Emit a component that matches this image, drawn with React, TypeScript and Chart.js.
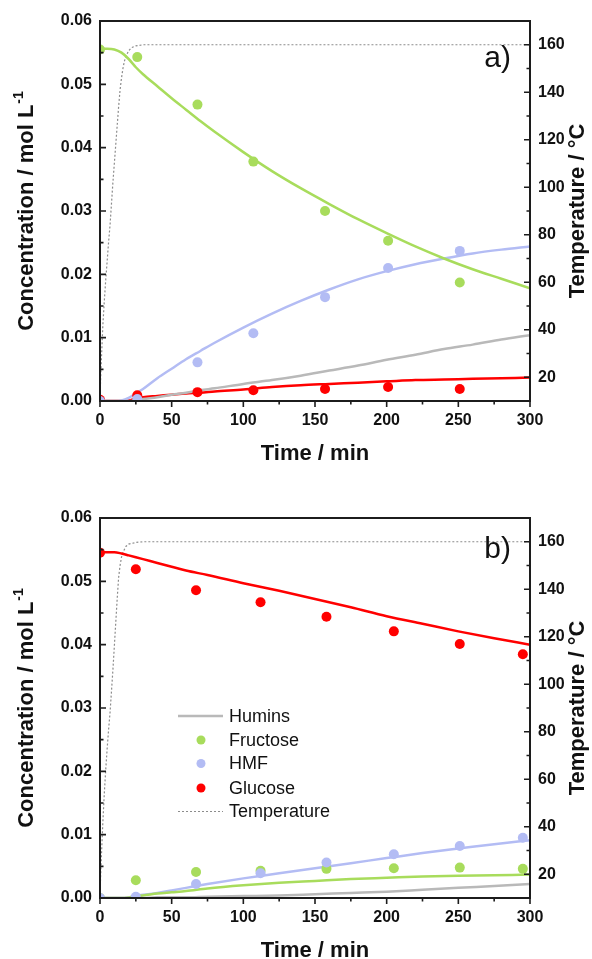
import React, { useEffect, useRef } from 'react';
import { Chart, registerables } from 'chart.js';

Chart.register(...registerables);

const FONT = '"Liberation Sans", Arial, Helvetica, sans-serif';

const GREEN = '#a8dc5c';
const BLUE = '#b3bcf4';
const RED = '#ff0000';
const GRAY = '#b9b9b9';
const TEMP = '#8c8c8c';

// ticks
const timeTicks = [0, 50, 100, 150, 200, 250, 300];
const timeMinor = [25, 75, 125, 175, 225, 275];
const concTicks = [0, 0.01, 0.02, 0.03, 0.04, 0.05, 0.06];
const concMinor = [0.005, 0.015, 0.025, 0.035, 0.045, 0.055];
const tempTicks = [20, 40, 60, 80, 100, 120, 140, 160];
const tempMinor = [30, 50, 70, 90, 110, 130, 150];

// ---------- Panel a (fructose feed) ----------
const timesA = [0, 26, 68, 107, 157, 201, 251];
const fructoseA = [0.0555, 0.0543, 0.0468, 0.0378, 0.03, 0.0253, 0.0187];
const hmfA = [0, 0.0003, 0.0061, 0.0107, 0.0164, 0.021, 0.0237];
const glucoseA = [0.0002, 0.0009, 0.0014, 0.0017, 0.0019, 0.0022, 0.0019];

const fitTimesA = [0, 5, 10, 15, 20, 25, 30, 40, 50, 60, 70, 80, 100, 120, 140, 160, 180, 200, 220, 240, 260, 280, 300];
const fructoseFitA = [0.0556, 0.0556, 0.0555, 0.055, 0.054, 0.0527, 0.0516, 0.0497, 0.0478, 0.046, 0.0442, 0.0425, 0.0393, 0.0363, 0.0336, 0.0311, 0.0287, 0.0265, 0.0244, 0.0225, 0.0208, 0.0193, 0.0178];
const hmfFitA = [0, 0, 0, 0.0001, 0.0005, 0.0012, 0.0019, 0.0036, 0.0051, 0.0066, 0.0079, 0.0092, 0.0116, 0.0138, 0.0158, 0.0176, 0.0192, 0.0205, 0.0216, 0.0225, 0.0233, 0.0239, 0.0244];
const huminsFitA = [0, 0, 0, 0, 0, 0.0001, 0.0003, 0.0006, 0.001, 0.0013, 0.0017, 0.002, 0.0027, 0.0033, 0.004, 0.0048, 0.0056, 0.0065, 0.0073, 0.0082, 0.0089, 0.0097, 0.0104];
const glucoseFitA = [0, 0, 0, 0, 0.0001, 0.0004, 0.0006, 0.0008, 0.001, 0.0012, 0.0013, 0.0015, 0.0018, 0.0022, 0.0025, 0.0027, 0.0029, 0.0031, 0.0033, 0.0034, 0.0035, 0.0036, 0.0037];

const tempTimesA = [0, 1, 2, 3, 4, 5, 6, 7, 8, 9, 10, 11, 12, 13, 14, 15, 16, 17, 18, 20, 22, 25, 30, 300];
const tempA = [12, 28, 42, 52, 61, 69, 77, 84, 93, 102, 110, 118, 126, 134, 141, 146, 150, 153, 155, 157.5, 158.8, 159.5, 160, 160];

// ---------- Panel b (glucose feed) ----------
const timesB = [0, 25, 67, 112, 158, 205, 251, 295];
const glucoseB = [0.0545, 0.0519, 0.0486, 0.0467, 0.0444, 0.0421, 0.0401, 0.0385];
const hmfB = [0, 0.0002, 0.0022, 0.0039, 0.0056, 0.0069, 0.0082, 0.0095];
const fructoseB = [0, 0.0028, 0.0041, 0.0043, 0.0046, 0.0047, 0.0048, 0.0046];

const fitTimesB = [0, 5, 10, 15, 20, 25, 30, 40, 50, 60, 75, 100, 125, 150, 175, 200, 225, 250, 275, 300];
const glucoseFitB = [0.0546, 0.0546, 0.0546, 0.0544, 0.0541, 0.0538, 0.0535, 0.0529, 0.0523, 0.0517, 0.051, 0.0497, 0.0485, 0.0472, 0.0459, 0.0445, 0.0433, 0.0421, 0.041, 0.04];
const hmfFitB = [0, 0, 0, 0, 0.0001, 0.0003, 0.0005, 0.0008, 0.0012, 0.0016, 0.0022, 0.0031, 0.0039, 0.0047, 0.0055, 0.0063, 0.0071, 0.0078, 0.0085, 0.0091];
const fructoseFitB = [0, 0, 0, 0, 0.0001, 0.0003, 0.0004, 0.0007, 0.0009, 0.0011, 0.0015, 0.002, 0.0024, 0.0027, 0.003, 0.0032, 0.0034, 0.0035, 0.0036, 0.0037];
const huminsFitB = [0, 0, 0, 0, 0, 0, 0, 0.0001, 0.0001, 0.0001, 0.0002, 0.0003, 0.0004, 0.0006, 0.0008, 0.001, 0.0013, 0.0016, 0.0019, 0.0022];

const tempTimesB = [0, 1, 2, 3, 4, 5, 6, 7, 8, 9, 10, 11, 12, 13, 14, 15, 16, 18, 20, 25, 30, 300];
const tempB = [12, 28, 42, 54, 64, 73, 81, 88, 97, 106, 116, 126, 136, 145, 150, 153.5, 155.5, 158, 159, 159.7, 160, 160];

const legendItems = ['Humins', 'Fructose', 'HMF', 'Glucose', 'Temperature'];

const pts = (xs: number[], ys: number[]) => xs.map((x, i) => ({ x, y: ys[i] }));

type PanelCfg = {
  tag: string;
  padTop: number;
  xHeight: number;
  tagY: number;
  legend: boolean;
  datasets: any[];
};

const pointDs = (xs: number[], ys: number[], color: string) => ({
  data: pts(xs, ys),
  showLine: false,
  pointRadius: 5,
  pointBorderWidth: 0,
  pointBackgroundColor: color,
  backgroundColor: color,
  borderColor: color,
  clip: 0,
  order: 0,
});

const fitDs = (xs: number[], ys: number[], color: string) => ({
  data: pts(xs, ys),
  showLine: true,
  pointRadius: 0,
  borderWidth: 2.5,
  borderColor: color,
  cubicInterpolationMode: 'monotone',
  clip: 0,
  order: 1,
});

const tempDs = (xs: number[], ys: number[]) => ({
  data: pts(xs, ys),
  showLine: true,
  pointRadius: 0,
  borderWidth: 1.2,
  borderDash: [2, 2],
  borderColor: TEMP,
  yAxisID: 'y2',
  clip: 0,
  order: 2,
});

const panelA: PanelCfg = {
  tag: 'a)',
  padTop: 21,
  xHeight: 79,
  tagY: 67,
  legend: false,
  datasets: [
    pointDs(timesA, fructoseA, GREEN),
    pointDs(timesA, hmfA, BLUE),
    pointDs(timesA, glucoseA, RED),
    fitDs(fitTimesA, huminsFitA, GRAY),
    fitDs(fitTimesA, fructoseFitA, GREEN),
    fitDs(fitTimesA, hmfFitA, BLUE),
    fitDs(fitTimesA, glucoseFitA, RED),
    tempDs(tempTimesA, tempA),
  ],
};

const panelB: PanelCfg = {
  tag: 'b)',
  padTop: 38,
  xHeight: 61,
  tagY: 78,
  legend: true,
  datasets: [
    pointDs(timesB, glucoseB, RED),
    pointDs(timesB, hmfB, BLUE),
    pointDs(timesB, fructoseB, GREEN),
    fitDs(fitTimesB, huminsFitB, GRAY),
    fitDs(fitTimesB, fructoseFitB, GREEN),
    fitDs(fitTimesB, hmfFitB, BLUE),
    fitDs(fitTimesB, glucoseFitB, RED),
    tempDs(tempTimesB, tempB),
  ],
};

function decorPlugin(p: PanelCfg) {
  return {
    id: 'decor',
    afterDatasetsDraw(chart: any) {
      const { ctx, chartArea: a, scales } = chart;
      const x = scales.x, y = scales.y, y2 = scales.y2;
      ctx.save();
      ctx.strokeStyle = '#1c1c1c';
      ctx.lineWidth = 2;
      ctx.strokeRect(a.left, a.top, a.right - a.left, a.bottom - a.top);
      ctx.lineWidth = 1.6;
      ctx.beginPath();
      timeTicks.forEach((v) => { const px = x.getPixelForValue(v); ctx.moveTo(px, a.bottom); ctx.lineTo(px, a.bottom + 6); });
      timeMinor.forEach((v) => { const px = x.getPixelForValue(v); ctx.moveTo(px, a.bottom); ctx.lineTo(px, a.bottom + 3.5); });
      concTicks.forEach((v) => { const py = y.getPixelForValue(v); ctx.moveTo(a.left, py); ctx.lineTo(a.left + 6, py); });
      concMinor.forEach((v) => { const py = y.getPixelForValue(v); ctx.moveTo(a.left, py); ctx.lineTo(a.left + 3.5, py); });
      tempTicks.forEach((v) => { const py = y2.getPixelForValue(v); ctx.moveTo(a.right, py); ctx.lineTo(a.right - 6, py); });
      tempMinor.forEach((v) => { const py = y2.getPixelForValue(v); ctx.moveTo(a.right, py); ctx.lineTo(a.right - 3.5, py); });
      ctx.stroke();

      // panel tag
      ctx.fillStyle = '#111';
      ctx.font = `30px ${FONT}`;
      ctx.textAlign = 'right';
      ctx.textBaseline = 'alphabetic';
      ctx.fillText(p.tag, a.right - 19, p.tagY);

      // legend
      if (p.legend) {
        const rowY = [236, 260, 283.5, 308, 331.5];
        ctx.font = `18px ${FONT}`;
        ctx.textAlign = 'left';
        ctx.textBaseline = 'middle';
        legendItems.forEach((label, i) => {
          const yy = rowY[i];
          if (i === 0) {
            ctx.strokeStyle = GRAY; ctx.lineWidth = 2.5; ctx.setLineDash([]);
            ctx.beginPath(); ctx.moveTo(178, yy); ctx.lineTo(223, yy); ctx.stroke();
          } else if (i === 4) {
            ctx.strokeStyle = TEMP; ctx.lineWidth = 1.2; ctx.setLineDash([2, 2]);
            ctx.beginPath(); ctx.moveTo(178, yy); ctx.lineTo(223, yy); ctx.stroke();
            ctx.setLineDash([]);
          } else {
            ctx.fillStyle = [GREEN, BLUE, RED][i - 1];
            ctx.beginPath(); ctx.arc(201, yy, 4.5, 0, Math.PI * 2); ctx.fill();
          }
          ctx.fillStyle = '#111';
          ctx.fillText(label, 229, yy + 1);
        });
      }

      // axis titles
      ctx.fillStyle = '#111';
      ctx.font = `bold 22px ${FONT}`;
      ctx.textAlign = 'center';
      ctx.textBaseline = 'alphabetic';
      ctx.fillText('Time / min', (a.left + a.right) / 2, a.bottom + 59);

      const cy = (a.top + a.bottom) / 2;
      // left title with superscript
      ctx.save();
      ctx.translate(27, cy);
      ctx.rotate(-Math.PI / 2);
      const main = 'Concentration / mol L';
      const sup = '-1';
      ctx.font = `bold 22px ${FONT}`;
      const w1 = ctx.measureText(main).width;
      ctx.font = `bold 14px ${FONT}`;
      const w2 = ctx.measureText(sup).width;
      const start = -(w1 + w2 + 1) / 2;
      ctx.textAlign = 'left';
      ctx.textBaseline = 'middle';
      ctx.font = `bold 22px ${FONT}`;
      ctx.fillText(main, start, 0);
      ctx.font = `bold 14px ${FONT}`;
      ctx.fillText(sup, start + w1 + 1, -8);
      ctx.restore();

      // right title
      ctx.save();
      ctx.translate(578, cy);
      ctx.rotate(-Math.PI / 2);
      ctx.font = `bold 22px ${FONT}`;
      ctx.textAlign = 'center';
      ctx.textBaseline = 'middle';
      ctx.fillText('Temperature / °C', 0, 0);
      ctx.restore();

      ctx.restore();
    },
  };
}

function makeChart(canvas: HTMLCanvasElement, p: PanelCfg) {
  const tickFont = { family: FONT, size: 16, weight: 'bold' as const };
  return new Chart(canvas, {
    type: 'scatter',
    data: { datasets: p.datasets },
    options: {
      responsive: false,
      animation: false,
      devicePixelRatio: 1,
      events: [],
      layout: { padding: { top: p.padTop, left: 0, right: 0, bottom: 0 } },
      plugins: { legend: { display: false }, tooltip: { enabled: false } },
      scales: {
        x: {
          type: 'linear',
          position: 'bottom',
          min: 0,
          max: 300,
          grid: { display: false, drawTicks: false },
          border: { display: false },
          afterBuildTicks: (s: any) => { s.ticks = timeTicks.map((v) => ({ value: v })); },
          afterFit: (s: any) => { s.height = p.xHeight; },
          ticks: { font: tickFont, color: '#111', padding: 10, maxRotation: 0, callback: (v: any) => String(v) },
        },
        y: {
          type: 'linear',
          position: 'left',
          min: 0,
          max: 0.06,
          grid: { display: false, drawTicks: false },
          border: { display: false },
          afterBuildTicks: (s: any) => { s.ticks = concTicks.map((v) => ({ value: v })); },
          afterFit: (s: any) => { s.width = 100; },
          ticks: { font: tickFont, color: '#111', padding: 8, callback: (v: any) => Number(v).toFixed(2) },
        },
        y2: {
          type: 'linear',
          position: 'right',
          min: 10,
          max: 170,
          grid: { display: false, drawTicks: false },
          border: { display: false },
          afterBuildTicks: (s: any) => { s.ticks = tempTicks.map((v) => ({ value: v })); },
          afterFit: (s: any) => { s.width = 62; },
          ticks: { font: tickFont, color: '#111', padding: 8, callback: (v: any) => String(v) },
        },
      },
    } as any,
    plugins: [decorPlugin(p)],
  });
}

export default function App() {
  const refA = useRef<HTMLCanvasElement>(null);
  const refB = useRef<HTMLCanvasElement>(null);

  useEffect(() => {
    const ca = makeChart(refA.current!, panelA);
    const cb = makeChart(refB.current!, panelB);
    return () => { ca.destroy(); cb.destroy(); };
  }, []);

  return (
    <div style={{ position: 'absolute', left: 0, top: 0, width: 592, height: 959, background: '#fff' }}>
      <canvas ref={refA} width={592} height={480} style={{ display: 'block', position: 'absolute', left: 0, top: 0 }} />
      <canvas ref={refB} width={592} height={479} style={{ display: 'block', position: 'absolute', left: 0, top: 480 }} />
    </div>
  );
}
